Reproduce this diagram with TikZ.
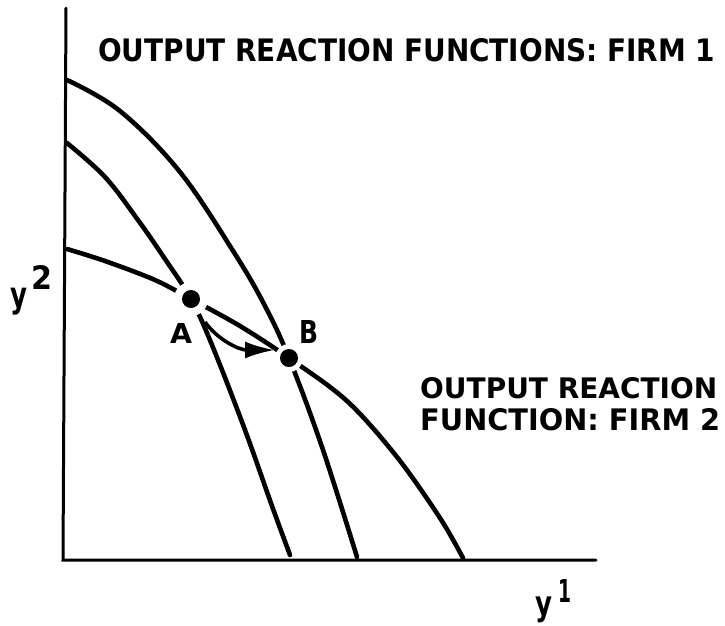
\documentclass[tikz,border=0pt]{standalone}
\usepackage{fontspec}
\setmainfont{DejaVu Sans}
\usepackage{graphicx}
\usetikzlibrary{arrows.meta}
\tikzset{
  curve/.style={line width=4.6pt, line cap=round, line join=round},
  axis/.style={line width=3pt, line cap=round},
  halo/.style={fill=white},
  dot/.style={circle, fill=black, inner sep=0pt, minimum size=18pt},
  lbl/.style={inner sep=0pt, anchor=north west, font=\bfseries},
  movearrow/.style={line width=3.6pt, -{Latex[length=30pt,width=17pt]}}
}
\begin{document}
\begin{tikzpicture}[x=1pt,y=-1pt]
\useasboundingbox (0,0) rectangle (725,625);
% points
\coordinate (pA) at (191,299);
\coordinate (pB) at (289,358);
% axes
\coordinate (ytop) at (66,8);
\coordinate (orig) at (63,560);
\coordinate (xend) at (596,560);
\draw[axis] (ytop) -- (orig) -- (xend);
% firm 1 reaction functions
\draw[curve] plot[smooth, tension=0.6] coordinates {(67,80) (120,111) (180,172) (235,254) (265,306) (289,358) (322,447) (357,557)};
\draw[curve] plot[smooth, tension=0.6] coordinates {(67,143) (105,177) (138,220) (165,259) (191,299) (212,345) (245,430) (272,506) (290,555)};
% firm 2 reaction function
\draw[curve] plot[smooth, tension=0.55] coordinates {(67,249) (105,261) (155,280) (191,299) (240,326) (289,358) (347,401) (397,457) (440,518) (463,558)};
% gaps round the points
\fill[halo] (pA) circle (17);
\fill[halo] (pB) circle (14);
\node[dot] (A) at (pA) {};
\node[dot] (B) at (pB) {};
% arrow from A to B
\draw[movearrow] ([shift={(14,23)}]A.center) .. controls ([shift={(27,41)}]A.center) and ([shift={(-50,-8)}]B.center) .. ([shift={(-14,-8)}]B.center);
% labels
\node[lbl] (lA) at (170,323) {\resizebox{22pt}{20pt}{A}};
\node[lbl] (lB) at (299,320) {\resizebox{19pt}{23pt}{B}};
\node[lbl] (t1) at (98,38) {\resizebox{617pt}{23pt}{OUTPUT REACTION FUNCTIONS: FIRM 1}};
\node[lbl] (t2) at (420,377) {\resizebox{297pt}{21pt}{OUTPUT REACTION}};
\node[lbl] (t3) at (420,408) {\resizebox{300pt}{22pt}{FUNCTION: FIRM 2}};
\node[lbl] (y2) at (10,288) {\resizebox*{17pt}{27pt}{y}};
\node[lbl] (y2s) at (31,265) {\resizebox{21pt}{24pt}{2}};
\node[lbl] (y1) at (535,597) {\resizebox*{17pt}{26pt}{y}};
\node[lbl] (y1s) at (558,579) {\resizebox{13pt}{23pt}{1}};
\end{tikzpicture}
\end{document}
